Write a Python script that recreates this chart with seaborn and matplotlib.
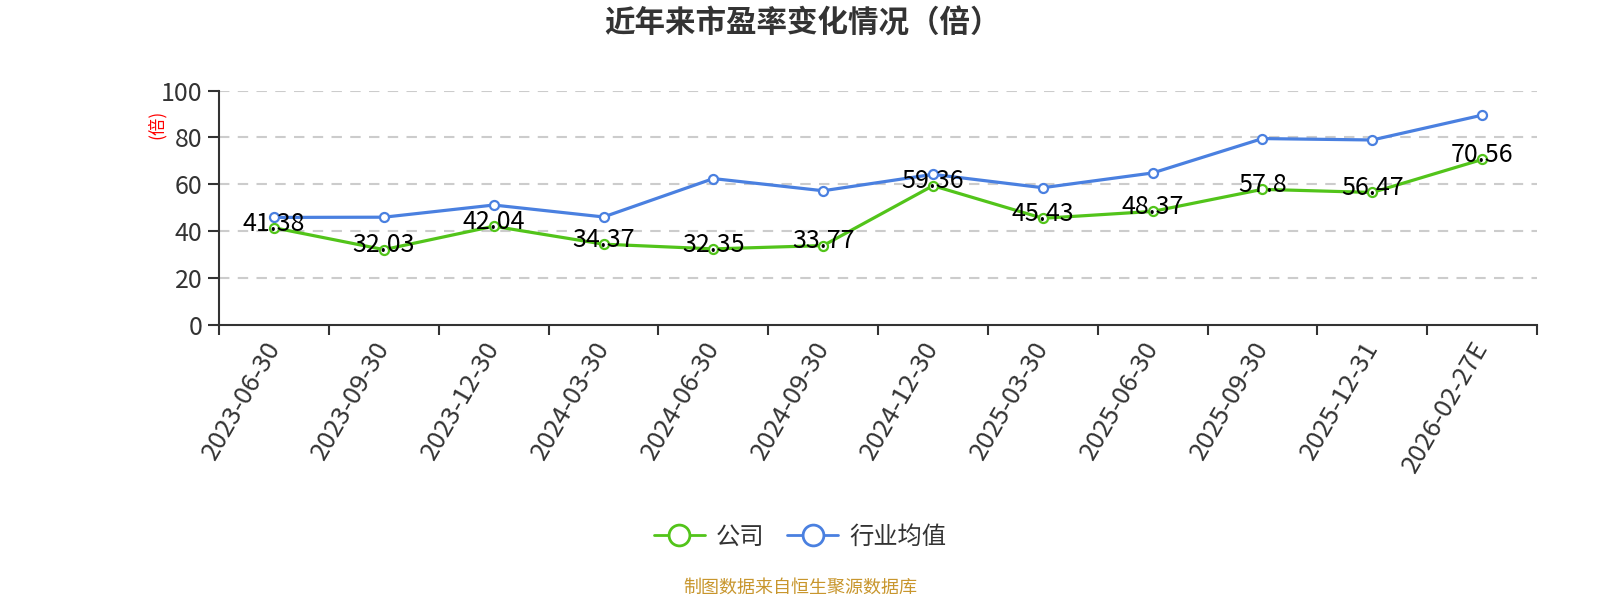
"""Recreate the P/E ratio trend chart (company vs industry average)."""

import matplotlib

matplotlib.use("Agg")

import matplotlib.pyplot as plt
import matplotlib.transforms as mtransforms
import pandas as pd
import seaborn as sns
from matplotlib.lines import Line2D
from matplotlib.ticker import FixedLocator

# ---- data -------------------------------------------------------------
dates = [
    "2023-06-30", "2023-09-30", "2023-12-30", "2024-03-30",
    "2024-06-30", "2024-09-30", "2024-12-30", "2025-03-30",
    "2025-06-30", "2025-09-30", "2025-12-31", "2026-02-27E",
]
company_pe = [41.38, 32.03, 42.04, 34.37, 32.35, 33.77,
              59.36, 45.43, 48.37, 57.8, 56.47, 70.56]
industry_pe = [45.8, 45.9, 51.1, 46.0, 62.4, 57.2,
               64.2, 58.5, 64.8, 79.5, 78.9, 89.5]
series_names = ["公司", "行业均值"]
y_ticks = [0, 20, 40, 60, 80, 100]

GREEN = "#52c41a"
BLUE = "#4a80e0"
TEXT = "#333333"

sns.set_style("white")
plt.rcParams["font.family"] = ["Noto Sans CJK SC", "DejaVu Sans"]

df = pd.DataFrame({
    "date": dates * 2,
    "pe": company_pe + industry_pe,
    "series": [series_names[0]] * len(dates) + [series_names[1]] * len(dates),
})

fig = plt.figure(figsize=(16, 6), dpi=100)
ax = fig.add_axes([0.137, 0.459, 0.8236, 0.390])

palette = {series_names[0]: GREEN, series_names[1]: BLUE}
sns.lineplot(
    data=df, x="date", y="pe", hue="series", palette=palette,
    hue_order=[series_names[1], series_names[0]],
    sort=False, linewidth=2.3, marker="o", markersize=6.5,
    markerfacecolor="white", markeredgewidth=1.6, legend=False, ax=ax,
)
# markers pick up line colour for the edge
for line in ax.get_lines():
    line.set_markeredgecolor(line.get_color())

for i, v in enumerate(company_pe):
    ax.text(i, v + 1.8, f"{v:g}", ha="center", va="center",
            fontsize=18, color="black", zorder=5)

ax.set_xlim(-0.5, len(dates) - 0.5)
ax.set_ylim(0, 100)
ax.set_yticks(y_ticks)
ax.set_xticks(range(len(dates)))
ax.set_xticklabels(dates, rotation=60, ha="right", rotation_mode="anchor")
ax.xaxis.set_minor_locator(FixedLocator([i - 0.5 for i in range(len(dates) + 1)]))

ax.tick_params(axis="x", which="major", length=0, pad=9, labelsize=18.5, labelcolor=TEXT)
ax.tick_params(axis="x", which="minor", length=7, width=1.5, color=TEXT, direction="out")
ax.tick_params(axis="y", length=8, width=1.5, color=TEXT, direction="out",
               pad=4, labelsize=18, labelcolor=TEXT)
ax.tick_params(bottom=True, left=True, which="both")

# nudge rotated labels left so their ends sit on the point centres
shift = mtransforms.ScaledTranslation(-0.11, 0, fig.dpi_scale_trans)
for label in ax.get_xticklabels():
    label.set_transform(label.get_transform() + shift)

for y in y_ticks[1:]:
    ax.axhline(y, color="#cccccc", linewidth=1.5, linestyle=(0, (5, 4)), zorder=0)

for side in ("top", "right"):
    ax.spines[side].set_visible(False)
for side in ("left", "bottom"):
    ax.spines[side].set_color(TEXT)
    ax.spines[side].set_linewidth(1.5)

ax.set_xlabel("")
ax.set_ylabel("")
fig.text(0.098, 0.793, "(倍)", rotation=90, color="red", fontsize=12.5,
         ha="center", va="center")

fig.text(0.5015, 0.961, "近年来市盈率变化情况（倍）", ha="center", va="center",
         fontsize=22, fontweight="bold", color=TEXT)

handles = [
    Line2D([], [], color=GREEN, linewidth=2, marker="o", markersize=15,
           markerfacecolor="white", markeredgewidth=2),
    Line2D([], [], color=BLUE, linewidth=2, marker="o", markersize=15,
           markerfacecolor="white", markeredgewidth=2),
]
fig.legend(handles, series_names, loc="center", bbox_to_anchor=(0.5, 0.105),
           ncol=2, frameon=False, fontsize=17.5, handlelength=2.1,
           handletextpad=0.45, columnspacing=0.95, labelcolor=TEXT)

fig.text(0.5, 0.02, "制图数据来自恒生聚源数据库", ha="center", va="center",
         fontsize=13, color="#c8962d")

fig.savefig("out.png", dpi=100)
plt.close(fig)
